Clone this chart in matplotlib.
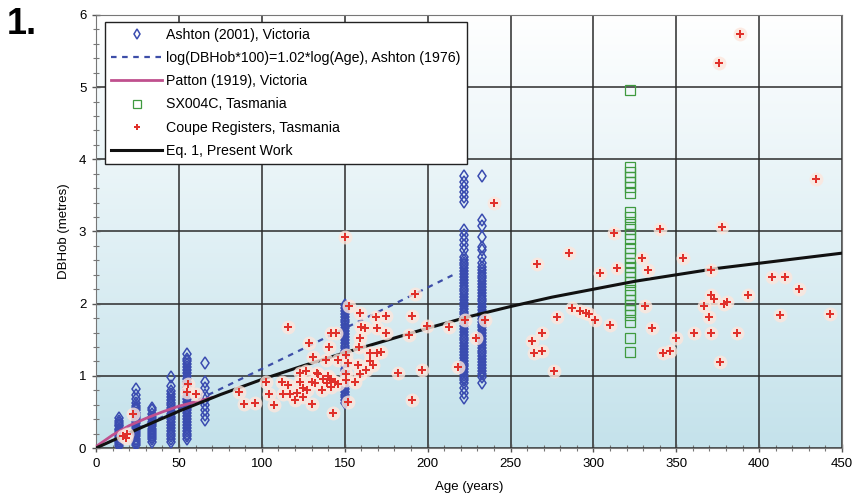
import numpy as np
import matplotlib.pyplot as plt
from matplotlib.colors import LinearSegmentedColormap

plt.rcParams['font.family'] = ['Liberation Sans', 'DejaVu Sans']

# Ashton (2001), Victoria: stand ages and the DBHob values measured at each age
ashton_ages = [14, 24, 34, 45, 55, 66, 150, 222, 233]
ashton_dbh = [
    [0.42, 0.38, 0.35, 0.32, 0.30, 0.27, 0.25, 0.22, 0.20, 0.18, 0.15, 0.13, 0.10, 0.08, 0.05, 0.03],
    [0.82, 0.74, 0.68, 0.62, 0.58, 0.55, 0.52, 0.49, 0.46, 0.43, 0.40, 0.37, 0.34, 0.31, 0.28,
     0.25, 0.22, 0.19, 0.16, 0.13, 0.10, 0.07, 0.04],
    [0.56, 0.52, 0.47, 0.43, 0.40, 0.36, 0.33, 0.30, 0.27, 0.24, 0.21, 0.18, 0.15, 0.12, 0.08],
    [0.99, 0.86, 0.79, 0.75, 0.71, 0.67, 0.63, 0.59, 0.55, 0.51, 0.47, 0.43, 0.40, 0.36, 0.32,
     0.28, 0.24, 0.20, 0.16, 0.12, 0.08],
    [1.30, 1.24, 1.20, 1.16, 1.12, 1.08, 1.04, 1.00, 0.96, 0.92, 0.88, 0.84, 0.80, 0.76, 0.72,
     0.68, 0.64, 0.60, 0.56, 0.52, 0.48, 0.44, 0.40, 0.36, 0.32, 0.28, 0.24, 0.20, 0.16, 0.12],
    [1.18, 0.92, 0.83, 0.73, 0.66, 0.60, 0.53, 0.46, 0.39],
    [1.98, 1.94, 1.90, 1.86, 1.82, 1.78, 1.74, 1.70, 1.66, 1.62, 1.58, 1.54, 1.50, 1.46, 1.42,
     1.38, 1.34, 1.30, 1.26, 1.22, 1.18, 1.14, 1.10, 1.06, 1.02, 0.98, 0.94, 0.90, 0.86, 0.82,
     0.78, 0.74, 0.70, 0.66, 0.62],
    [3.77, 3.69, 3.62, 3.55, 3.48, 3.41, 3.02, 2.95, 2.88, 2.81, 2.74, 2.65, 2.61, 2.57, 2.53,
     2.49, 2.45, 2.41, 2.37, 2.33, 2.29, 2.25, 2.21, 2.17, 2.13, 2.09, 2.05, 2.01, 1.97, 1.93,
     1.89, 1.85, 1.81, 1.77, 1.73, 1.69, 1.65, 1.61, 1.57, 1.53, 1.49, 1.45, 1.41, 1.37, 1.33,
     1.29, 1.25, 1.21, 1.17, 1.13, 1.09, 1.05, 1.01, 0.97, 0.94, 0.90, 0.83, 0.76, 0.69],
    [3.77, 3.16, 3.07, 2.93, 2.79, 2.74, 2.65, 2.56, 2.51, 2.47, 2.43, 2.39, 2.35, 2.31, 2.27,
     2.23, 2.19, 2.15, 2.11, 2.07, 2.03, 1.99, 1.95, 1.91, 1.87, 1.83, 1.79, 1.75, 1.71, 1.67,
     1.63, 1.59, 1.55, 1.51, 1.47, 1.43, 1.39, 1.35, 1.31, 1.27, 1.23, 1.19, 1.15, 1.11, 1.07,
     1.03, 0.98, 0.90],
]

# Ashton (1976) relation, log(DBHob*100) = 1.02*log(Age)
ashton76_age = [1, 5, 10, 20, 40, 60, 80, 100, 120, 140, 160, 180, 200, 215]

# Patton (1919), Victoria
patton_age = [0, 10, 20, 30, 40, 50, 60, 70]
patton_dbh = [0.02, 0.18, 0.31, 0.41, 0.50, 0.58, 0.64, 0.70]

# SX004C, Tasmania (single stand)
sx_age = 322
sx_dbh = [4.96, 3.90, 3.83, 3.76, 3.69, 3.62, 3.53, 3.27, 3.20, 3.11, 3.04, 2.97, 2.90,
          2.77, 2.70, 2.63, 2.56, 2.51, 2.44, 2.37, 2.30, 2.19, 2.12, 2.05, 1.98, 1.91,
          1.84, 1.75, 1.52, 1.33]

# Coupe registers, Tasmania
coupe_age = [
    16.5, 18, 18.5, 22.5, 55, 55.5, 60,
    86.5, 89.5, 96, 102.5, 104.5, 107.5, 112, 113, 115.5, 115.5, 117, 120, 121,
    123, 123, 125, 125, 126.5, 127, 128.5, 130, 130, 131, 132, 133, 134, 136, 137,
    139, 139.5, 140, 140.5, 141, 142, 142, 142, 143, 144, 145, 146, 146,
    150, 151, 151, 151, 152, 152, 152.5,
    156, 158, 158.5, 159, 159, 159, 160, 162, 163, 165, 165, 167, 169, 169.5, 169.5,
    172, 175, 175, 182, 188.5, 190.5, 190.5, 192.5, 196.5, 199.5,
    213, 218.5, 222.5, 229, 234.5, 240,
    263, 264, 266, 269, 269, 276.5, 278, 285, 287, 292, 295.5, 297.5, 301, 304, 310,
    312.5, 314.5, 329.5, 331, 333, 335.5, 340, 342, 346.5, 350, 354, 360.5, 366.5,
    370, 371, 371, 371, 372.5, 376, 376.5, 377.5, 379, 380.5, 386.5, 388.5, 393.5,
    408, 412.5, 415.5, 424, 434.5, 442.5,
]
coupe_dbh = [
    0.16, 0.14, 0.19, 0.47, 0.78, 0.89, 0.75,
    0.77, 0.61, 0.62, 0.92, 0.75, 0.60, 0.91, 0.75, 0.87, 1.68, 0.75, 0.66, 0.76,
    0.92, 1.04, 0.71, 0.83, 1.06, 0.80, 1.45, 0.61, 0.92, 1.26, 0.90, 1.04, 1.02, 0.81, 0.95,
    1.22, 0.90, 1.00, 1.40, 0.96, 0.84, 0.94, 1.59, 0.49, 0.92, 1.60, 1.22, 0.89,
    2.93, 0.94, 1.29, 1.03, 0.64, 1.18, 1.97,
    0.92, 1.15, 1.40, 1.53, 1.87, 1.03, 1.68, 1.66, 1.08, 1.20, 1.31, 1.15, 1.82, 1.66, 1.32,
    1.33, 1.83, 1.60, 1.04, 1.57, 1.83, 0.67, 2.13, 1.08, 1.69,
    1.68, 1.12, 1.77, 1.53, 1.77, 3.40,
    1.48, 1.31, 2.55, 1.59, 1.34, 1.06, 1.82, 2.70, 1.94, 1.90, 1.87, 1.86, 1.77, 2.42, 1.70,
    2.98, 2.50, 2.63, 1.97, 2.47, 1.66, 3.04, 1.31, 1.34, 1.53, 2.63, 1.60, 1.97,
    1.82, 2.47, 2.12, 1.60, 2.07, 5.33, 1.19, 3.06, 2.00, 2.02, 1.60, 5.74, 2.12,
    2.37, 1.84, 2.37, 2.20, 3.73, 1.86,
]

# Eq. 1, present work
eq1_age = [0, 25, 50, 75, 100, 125, 150, 175, 200, 225, 250, 275, 300, 325, 350, 375, 400, 425, 450]
eq1_dbh = [0, 0.26, 0.51, 0.74, 0.95, 1.14, 1.32, 1.49, 1.66, 1.82, 1.96, 2.09, 2.20, 2.31,
           2.40, 2.49, 2.56, 2.63, 2.70]

fig = plt.figure(figsize=(8.59, 4.99), dpi=100)
ax = fig.add_axes([0.1118, 0.1022, 0.8685, 0.8678])

# pale blue at the bottom fading to white at the top
grad = np.linspace(0, 1, 256).reshape(-1, 1)
bg = LinearSegmentedColormap.from_list('bg', ['#c4e2eb', '#ffffff'])
ax.imshow(grad, extent=[0, 450, 0, 6], origin='lower', aspect='auto', cmap=bg, zorder=0)

ax.set_xlim(0, 450)
ax.set_ylim(0, 6)
ax.set_xticks(range(0, 451, 50))
ax.set_yticks(range(0, 7))
ax.set_xticks(range(0, 451, 10), minor=True)
ax.set_yticks(np.arange(0, 6.01, 0.2), minor=True)
ax.grid(True, which='major', color='#2b2b2b', linewidth=1.1, zorder=1)
ax.set_axisbelow(True)
ax.tick_params(which='major', direction='inout', length=6, width=1, color='#555555',
               labelsize=9.5, pad=4)
ax.tick_params(which='minor', direction='inout', length=4, width=0.8, color='#777777')
for s in ax.spines.values():
    s.set_color('#777777')

xs = np.concatenate([[a] * len(v) for a, v in zip(ashton_ages, ashton_dbh)])
ys = np.concatenate(ashton_dbh)
h_ashton, = ax.plot(xs, ys, 'd', ms=6, mfc='none', mec='#3a4cb0', mew=1.1, zorder=3,
                    label='Ashton (2001), Victoria')

a76 = np.array(ashton76_age, dtype=float)
h_a76, = ax.plot(a76, a76 ** 1.02 / 100, linestyle=(0, (2.5, 2.5)), color='#3d4ea8', lw=1.6,
                 zorder=4, label='log(DBHob*100)=1.02*log(Age), Ashton (1976)')
h_patton, = ax.plot(patton_age, patton_dbh, color='#c0508e', lw=2, zorder=4,
                    label='Patton (1919), Victoria')
h_sx, = ax.plot([sx_age] * len(sx_dbh), sx_dbh, 's', ms=7, mfc='none', mec='#3f9a3f', mew=0.9,
                zorder=4, label='SX004C, Tasmania')
h_eq1, = ax.plot(eq1_age, eq1_dbh, color='#111111', lw=2.2, zorder=5,
                 label='Eq. 1, Present Work')
ax.plot(coupe_age, coupe_dbh, 'o', ms=10, color='#fde6dc', alpha=0.8, mew=0, zorder=6)
h_coupe, = ax.plot(coupe_age, coupe_dbh, 'P', ms=6.2, color='#e0302a', mew=0, zorder=7,
                   label='Coupe Registers, Tasmania')

leg = ax.legend(handles=[h_ashton, h_a76, h_patton, h_sx, h_coupe, h_eq1],
                loc='upper left', bbox_to_anchor=(0.012, 0.984), fontsize=10.2,
                frameon=True, fancybox=False, framealpha=1, edgecolor='#222222',
                handlelength=3.6, handletextpad=0.25, labelspacing=0.64,
                borderpad=0.45, borderaxespad=0, markerscale=0.8)
leg.get_frame().set_linewidth(1.0)
leg.set_zorder(10)

ax.set_xlabel('Age (years)', fontsize=9.5, labelpad=8)
ax.set_ylabel('DBHob (metres)', fontsize=9.5, labelpad=6)
fig.text(0.008, 0.985, '1.', fontsize=26, fontweight='bold', va='top', ha='left')

fig.savefig('out.png', dpi=100)
